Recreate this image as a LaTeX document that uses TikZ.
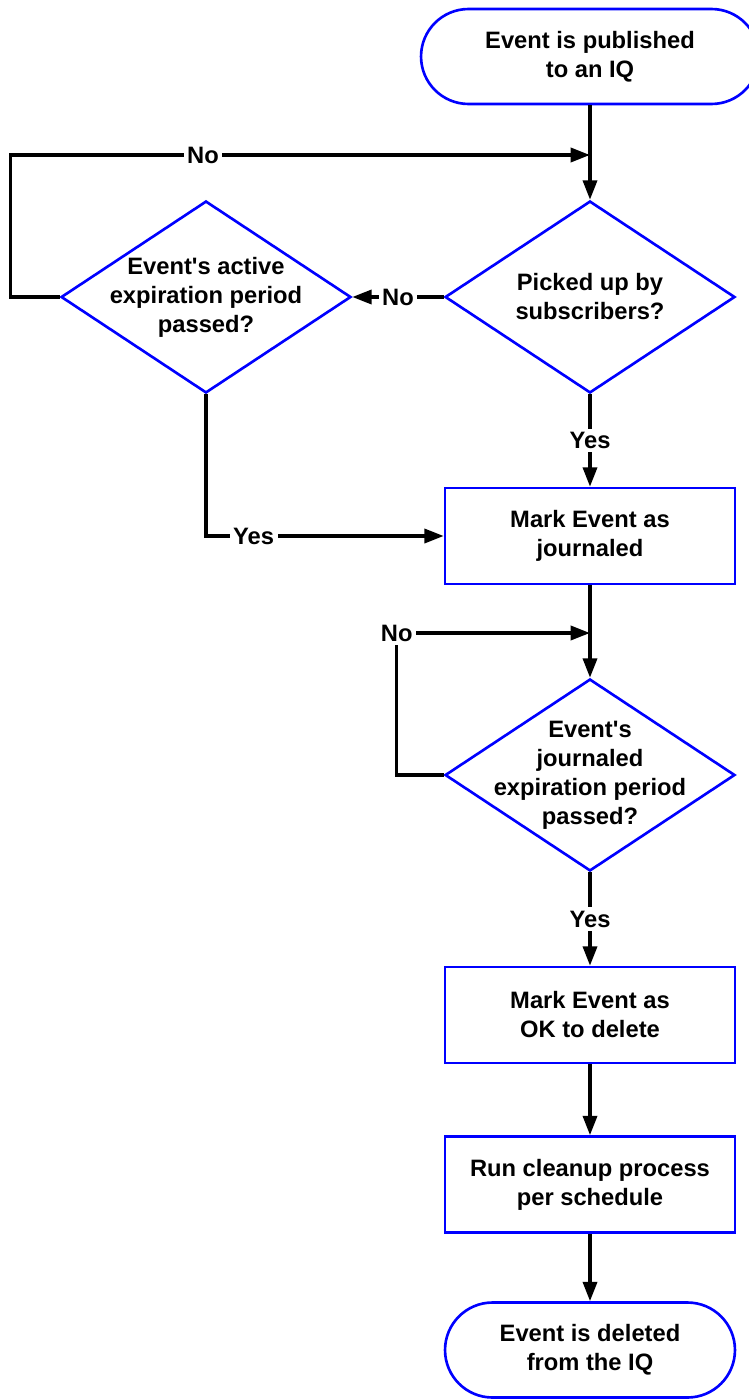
\documentclass[tikz,border=0pt]{standalone}
\usepackage{fontspec}
\setmainfont{Liberation Sans}
\usetikzlibrary{arrows.meta,positioning,shapes.geometric}
\tikzset{
  base/.style={font=\bfseries\fontsize{13.5}{16.5}\selectfont, align=center},
  term/.style={base, draw=blue, line width=1.5pt, rectangle, rounded corners=0.95cm, minimum width=5.8cm, minimum height=1.9cm},
  proc/.style={base, draw=blue, line width=1.5pt, rectangle, minimum width=5.8cm, minimum height=1.92cm},
  dec/.style={draw=blue, line width=1.5pt, diamond, inner sep=0pt, minimum width=5.8cm, minimum height=3.84cm},
  conn/.style={line width=1.9pt, -{Triangle[length=11pt,width=8pt]}},
  lbl/.style={base, fill=white, inner sep=2pt},
}
\begin{document}
\begin{tikzpicture}[x=0.02cm, y=-0.02cm]
\useasboundingbox (0,0) rectangle (749,1399);
% nodes
\node[term, minimum width=6.76cm] (start) at (590,56.5) {Event is published\\to an IQ};
\node[dec, label={[base]center:{Picked up by\\subscribers?}}] (picked) at (590,297) {};
\node[dec, label={[base]center:{Event\textquotesingle s active\\expiration period\\passed?}}] (active) at (206,297) {};
\node[proc] (markjour) at (590,536) {Mark Event as\\journaled};
\node[dec, label={[base]center:{Event\textquotesingle s\\journaled\\expiration period\\passed?}}] (jourexp) at (590,775) {};
\node[proc] (markdel) at (590,1015) {Mark Event as\\OK to delete};
\node[proc] (cleanup) at (590,1184.5) {Run cleanup process\\per schedule};
\node[term] (deleted) at (590,1350) {Event is deleted\\from the IQ};
\coordinate (join1) at (590,155);
\coordinate (join2) at (590,633);
% connectors
\draw[conn] (start) -- (picked);
\draw[conn] (picked) -- node[lbl]{No} (active);
\draw[conn] (active.west) -- ++(-49,0) |- node[lbl, pos=0.666]{No} (join1);
\draw[conn] (picked) -- node[lbl]{Yes} (markjour);
\draw[conn] (active.south) |- node[lbl, pos=0.6]{Yes} (markjour.west);
\draw[conn] (markjour) -- (jourexp);
\draw[conn] (jourexp.west) -- ++(-47,0) |- node[lbl, pos=0.5]{No} (join2);
\draw[conn] (jourexp) -- node[lbl]{Yes} (markdel);
\draw[conn] (markdel) -- (cleanup);
\draw[conn] (cleanup) -- (deleted);
\end{tikzpicture}
\end{document}
